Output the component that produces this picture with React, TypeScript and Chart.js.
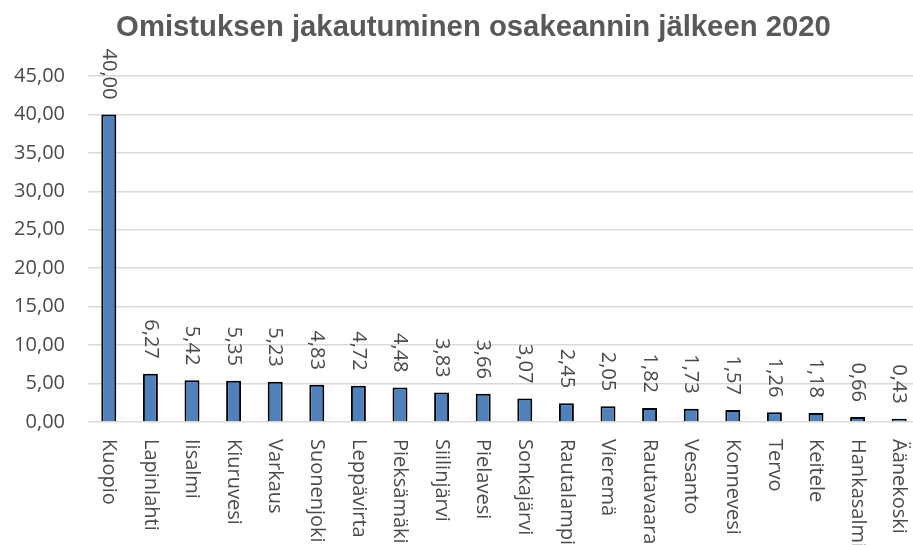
import React, { useEffect, useRef } from "react";
import { Chart, registerables } from "chart.js";

Chart.register(...registerables);

const categories = [
  "Kuopio", "Lapinlahti", "Iisalmi", "Kiuruvesi", "Varkaus", "Suonenjoki", "Leppävirta",
  "Pieksämäki", "Siilinjärvi", "Pielavesi", "Sonkajärvi", "Rautalampi", "Vieremä",
  "Rautavaara", "Vesanto", "Konnevesi", "Tervo", "Keitele", "Hankasalmi", "Äänekoski",
];
const values = [
  40.0, 6.27, 5.42, 5.35, 5.23, 4.83, 4.72, 4.48, 3.83, 3.66, 3.07, 2.45, 2.05, 1.82, 1.73,
  1.57, 1.26, 1.18, 0.66, 0.43,
];
const yTicks = [0, 5, 10, 15, 20, 25, 30, 35, 40, 45];
const title = "Omistuksen jakautuminen osakeannin jälkeen 2020";

const TEXT = "#4a4a4a";
const FONT = "20px 'Open Sans'";
const fmt = (v: number) => v.toFixed(2).replace(".", ",");

const labelsPlugin = {
  id: "customLabels",
  afterDatasetsDraw(chart: any) {
    const ctx = chart.ctx;
    const meta = chart.getDatasetMeta(0);
    const xScale = chart.scales.x;
    const bottom = chart.chartArea.bottom;
    ctx.save();
    // title
    ctx.fillStyle = "#595959";
    ctx.font = "bold 29.3px 'Liberation Sans', Arial, sans-serif";
    ctx.textAlign = "center";
    ctx.textBaseline = "alphabetic";
    ctx.fillText(title, 473.5, 36);
    // data labels
    ctx.fillStyle = TEXT;
    ctx.font = FONT;
    ctx.textBaseline = "middle";
    meta.data.forEach((bar: any, i: number) => {
      ctx.save();
      ctx.translate(bar.x, bar.y - 15);
      ctx.rotate(Math.PI / 2);
      ctx.textAlign = "right";
      ctx.fillText(fmt(values[i]), 0, 0);
      ctx.restore();
    });
    // category labels
    categories.forEach((c, i) => {
      const x = xScale.getPixelForValue(i);
      ctx.save();
      ctx.translate(x, bottom + 17);
      ctx.rotate(Math.PI / 2);
      ctx.textAlign = "left";
      ctx.fillText(c, 0, 0);
      ctx.restore();
    });
    ctx.restore();
  },
};

export default function App() {
  const ref = useRef<HTMLCanvasElement>(null);
  useEffect(() => {
    const chart = new Chart(ref.current!, {
      type: "bar",
      data: {
        labels: categories,
        datasets: [
          {
            data: values,
            backgroundColor: "#4F81BD",
            borderColor: "#000000",
            borderWidth: 2,
            barPercentage: 0.36,
            categoryPercentage: 1,
          },
        ],
      },
      options: {
        animation: false,
        responsive: false,
        layout: { padding: { top: 76, left: 0, right: 26, bottom: 115 } },
        plugins: {
          legend: { display: false },
          tooltip: { enabled: false },
          title: { display: false },
        },
        scales: {
          x: {
            ticks: { display: false },
            grid: { display: false },
            border: { display: false },
          },
          y: {
            min: 0,
            max: 45,
            afterBuildTicks: (scale: any) => {
              scale.ticks = yTicks.map((v) => ({ value: v }));
            },
            afterFit: (scale: any) => {
              scale.width = 88;
            },
            ticks: {
              color: TEXT,
              font: { family: "'Open Sans'", size: 20 },
              padding: 23,
              callback: (v: any) => fmt(Number(v)),
            },
            grid: { color: "#d9d9d9", lineWidth: 1.5, drawTicks: false },
            border: { display: false },
          },
        },
      },
      plugins: [labelsPlugin],
    });
    return () => chart.destroy();
  }, []);
  return (
    <div
      style={{
        position: "fixed",
        left: 0,
        top: 0,
        width: 913,
        height: 545,
        overflow: "hidden",
        background: "#fff",
      }}
    >
      <canvas ref={ref} width={946} height={545} style={{ width: 946, height: 545, display: "block" }} />
    </div>
  );
}
